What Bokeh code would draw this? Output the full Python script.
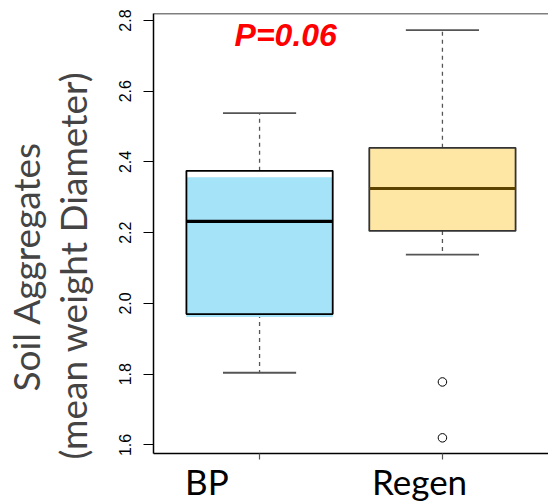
from bokeh.plotting import figure
from bokeh.models import Range1d, FixedTicker, Title, Label, Span, LinearAxis, PrintfTickFormatter
from bokeh.embed import file_html
from bokeh.resources import INLINE

# ---------------- data ----------------
categories = ["BP", "Regen"]
q1 = [1.970, 2.205]
median = [2.232, 2.325]
q3 = [2.375, 2.440]
whisk_lo = [1.804, 2.138]
whisk_hi = [2.538, 2.773]
outlier_group = ["Regen", "Regen"]
outlier_vals = [1.778, 1.620]
y_ticks = [1.6, 1.8, 2.0, 2.2, 2.4, 2.6, 2.8]
# the BP fill is printed slightly shifted from its outline in the original
bp_fill_lo = 1.962
bp_fill_hi = 2.357
p_text = "P=0.06"
y_title_1 = "Soil Aggregates"
y_title_2 = "(mean weight Diameter)"

# ---------------- styles ----------------
fill_colors = ["#a5e3f9", "#fee6a5"]
median_colors = ["#000000", "#5c4400"]
border_colors = ["#000000", "#333333"]
label_px_offsets = [-53, -23]   # category labels sit left of their ticks

W, H = 548, 504
LEFT, TOP, BOTTOM = 151, 13, 51
x_lo, x_hi = 0.42, 2.58
y_min, y_max = 1.5757, 2.8198
px_per_unit = (W - LEFT) / (x_hi - x_lo)

pos = [i + 1 for i in range(len(categories))]
box_w = 0.8
cap_w = 0.4

p = figure(width=W, height=H, output_backend="svg", toolbar_location=None,
           x_range=Range1d(x_lo, x_hi), y_range=Range1d(y_min, y_max),
           min_border_left=LEFT, min_border_right=0, min_border_top=TOP,
           min_border_bottom=BOTTOM, outline_line_color=None, background_fill_color="white")
p.xgrid.visible = False
p.ygrid.visible = False

# whiskers
p.segment(x0=pos, y0=q3, x1=pos, y1=whisk_hi, line_color="#555555", line_width=1.3, line_dash="4 4")
p.segment(x0=pos, y0=q1, x1=pos, y1=whisk_lo, line_color="#555555", line_width=1.3, line_dash="4 4")
# caps
p.segment(x0=[x - cap_w / 2 for x in pos], y0=whisk_hi, x1=[x + cap_w / 2 for x in pos], y1=whisk_hi,
          line_color="#555555", line_width=1.8)
p.segment(x0=[x - cap_w / 2 for x in pos], y0=whisk_lo, x1=[x + cap_w / 2 for x in pos], y1=whisk_lo,
          line_color="#555555", line_width=1.8)

# BP fill (shifted), Regen fill
p.vbar(x=[pos[0]], width=box_w, bottom=[bp_fill_lo], top=[bp_fill_hi], fill_color=fill_colors[0], line_color=None)
p.vbar(x=[pos[1]], width=box_w, bottom=[q1[1]], top=[q3[1]], fill_color=fill_colors[1], line_color=None)
# outlines
p.vbar(x=pos, width=box_w, bottom=q1, top=q3, fill_color=None, line_color=border_colors, line_width=1.8)
# medians
p.segment(x0=[x - box_w / 2 for x in pos], y0=median, x1=[x + box_w / 2 for x in pos], y1=median,
          line_color=median_colors, line_width=3.2)

# outliers
opos = [pos[categories.index(g)] for g in outlier_group]
p.scatter(x=opos, y=outlier_vals, marker="circle", size=8.5, fill_color="white",
          line_color="black", line_width=1)

# top frame line
p.add_layout(Span(location=y_max, dimension="width", line_color="black", line_width=1.5))

# y axis
ya = p.yaxis[0]
ya.ticker = FixedTicker(ticks=y_ticks)
ya.formatter = PrintfTickFormatter(format="%.1f")
ya.major_label_orientation = "vertical"
ya.major_tick_out = 10
ya.major_tick_in = 0
ya.minor_tick_line_color = None
ya.axis_line_width = 1.5
ya.major_tick_line_width = 1.2
ya.major_label_text_font = "Liberation Sans"
ya.major_label_text_font_size = "16px"
ya.major_label_text_color = "black"
ya.major_label_standoff = 12

# spacer axis between tick labels and the axis titles: one white (invisible) tick, no label
spacer = LinearAxis(ticker=FixedTicker(ticks=[1.7]), axis_line_color=None,
                    major_tick_line_color="white", minor_tick_line_color=None,
                    major_tick_out=22, major_tick_in=0, major_label_standoff=0,
                    major_label_text_color=None, major_label_text_font_size="1px")
p.add_layout(spacer, "left")

# x axis: tick marks (as minor ticks) at the boxes, labels where the original prints them
label_pos = [x + off / px_per_unit for x, off in zip(pos, label_px_offsets)]
xa = p.xaxis[0]
xa.ticker = FixedTicker(ticks=label_pos, minor_ticks=pos)
xa.major_label_overrides = {lp: name for lp, name in zip(label_pos, categories)}
xa.major_tick_line_color = None
xa.major_tick_out = 0
xa.major_tick_in = 0
xa.minor_tick_out = 6
xa.minor_tick_in = 0
xa.minor_tick_line_color = "#555555"
xa.minor_tick_line_width = 1.2
xa.axis_line_width = 1.5
xa.major_label_standoff = 0
xa.major_label_text_font = "Lato"
xa.major_label_text_font_size = "35px"
xa.major_label_text_color = "black"

# p-value
p.add_layout(Label(x=pos[0], y=y_max, text=p_text, x_offset=-25, y_offset=-21,
                   text_align="left", text_baseline="alphabetic",
                   text_font="Liberation Sans", text_font_style="bold italic",
                   text_font_size="32px", text_color="#ff0000"))

# y axis titles (two lines)
t2 = Title(text=y_title_2, align="left", offset=-6, text_font="Lato",
           text_font_size="37px", text_font_style="normal", standoff=0)
p.add_layout(t2, "left")
t1 = Title(text=y_title_1, align="left", offset=62, text_font="Lato",
           text_font_size="37px", text_font_style="normal", standoff=0)
p.add_layout(t1, "left")

open("out.html", "w").write(file_html(p, INLINE))
